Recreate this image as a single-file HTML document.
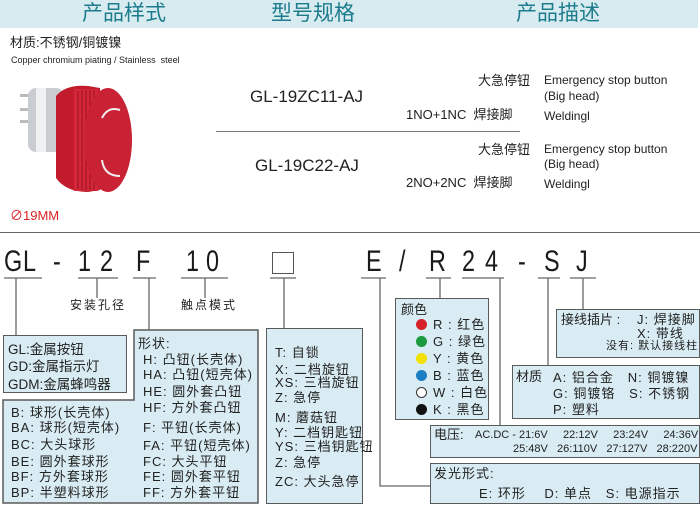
<!DOCTYPE html>
<html><head><meta charset="utf-8">
<style>
body{margin:0;width:700px;height:505px;background:#fff;position:relative;overflow:hidden;font-family:"Liberation Sans","Noto Sans CJK SC",sans-serif;color:#222}
.a{position:absolute;white-space:nowrap;line-height:1}
.hd{position:absolute;left:0;top:0;width:698px;height:28px;background:#d8ebf1}
.ht{position:absolute;top:2px;font-size:21px;color:#1d7c8c;line-height:23px}
.box{position:absolute;background:#d9ecf3;border:1.5px solid #5a5a5a;box-sizing:border-box}
.L{position:absolute;font-size:30px;line-height:30px;top:247px;transform:scaleX(.78);transform-origin:left top;color:#1a1a1a}
.t{font-size:13px;letter-spacing:1px}
.dot{display:inline-block;width:11px;height:11px;border-radius:50%;margin-right:6px;vertical-align:-1px}
</style></head><body>
<div class="hd"></div>
<div class="ht" style="left:82px">产品样式</div>
<div class="ht" style="left:271px">型号规格</div>
<div class="ht" style="left:516px">产品描述</div>

<div class="a" style="left:10px;top:36px;font-size:13px">材质:不锈钢/铜镀镍</div>
<div class="a" style="left:11px;top:56px;font-size:9px">Copper chromium piating / Stainless&nbsp; steel</div>

<svg style="position:absolute;left:0;top:60px" width="140" height="140">
<rect x="20" y="34" width="10" height="3" fill="#bbb"/><rect x="20" y="48" width="10" height="3" fill="#bbb"/><rect x="20" y="60" width="10" height="3" fill="#bbb"/>
<rect x="28" y="28" width="36" height="64" rx="8" fill="#c9ccd0"/>
<rect x="36" y="28" width="10" height="64" fill="#eef0f2"/>
<path d="M56 36 Q66 24 88 26 L100 28 L100 130 L88 132 Q66 132 56 118 Z" fill="#c21c2c"/>
<rect x="74" y="29" width="24" height="102" fill="#d4283a"/>
<g stroke="#9a1020" stroke-width="1">
<line x1="78" y1="31" x2="78" y2="129"/><line x1="82" y1="30" x2="82" y2="130"/><line x1="86" y1="30" x2="86" y2="131"/><line x1="90" y1="30" x2="90" y2="131"/><line x1="94" y1="30" x2="94" y2="131"/></g>
<ellipse cx="108" cy="80" rx="24" ry="52" fill="#c92234"/>
<path d="M102 58 Q108 46 120 50" stroke="#eee" stroke-width="2" fill="none"/>
<path d="M102 100 Q104 116 120 116" stroke="#eee" stroke-width="2" fill="none"/>
</svg>
<div class="a" style="left:10px;top:209px;font-size:13px;color:#d22">∅19MM</div>

<div class="a" style="left:250px;top:88px;font-size:17px">GL-19ZC11-AJ</div>
<div style="position:absolute;left:216px;top:131px;width:304px;height:1px;background:#777"></div>
<div class="a" style="left:255px;top:157px;font-size:17px">GL-19C22-AJ</div>

<div class="a" style="left:478px;top:74px;font-size:13px">大急停钮</div>
<div class="a" style="left:544px;top:74px;font-size:12px">Emergency stop button</div>
<div class="a" style="left:544px;top:90px;font-size:12px">(Big head)</div>
<div class="a" style="left:406px;top:108px;font-size:13px">1NO+1NC&nbsp; 焊接脚</div>
<div class="a" style="left:544px;top:110px;font-size:12px">Weldingl</div>
<div class="a" style="left:478px;top:143px;font-size:13px">大急停钮</div>
<div class="a" style="left:544px;top:143px;font-size:12px">Emergency stop button</div>
<div class="a" style="left:544px;top:158px;font-size:12px">(Big head)</div>
<div class="a" style="left:406px;top:176px;font-size:13px">2NO+2NC&nbsp; 焊接脚</div>
<div class="a" style="left:544px;top:178px;font-size:12px">Weldingl</div>

<div style="position:absolute;left:0;top:232px;width:700px;height:1px;background:#666"></div>

<div class="L" style="left:4px">G</div><div class="L" style="left:23px">L</div><div class="L" style="left:53px">-</div>
<div class="L" style="left:78px">1</div><div class="L" style="left:100px">2</div><div class="L" style="left:136px">F</div>
<div class="L" style="left:186px">1</div><div class="L" style="left:206px">0</div>
<div style="position:absolute;left:272px;top:252px;width:20px;height:20px;border:1.5px solid #555"></div>
<div class="L" style="left:366px">E</div><div class="L" style="left:399px">/</div><div class="L" style="left:429px">R</div>
<div class="L" style="left:462px">2</div><div class="L" style="left:485px">4</div><div class="L" style="left:518px">-</div>
<div class="L" style="left:544px">S</div><div class="L" style="left:576px">J</div>

<svg style="position:absolute;left:0;top:0" width="700" height="505" fill="none" stroke="#666" stroke-width="1.3">
<path d="M4 278H42M78 278H118M133 278H156M181 278H228M270 278H296M361 278H386M426 278H451M462 278H504M538 278H560M570 278H596"/>
<path d="M16 278V335M97 278V298M149 278V330M205 278V298M284 278V328M380 278V486H430M440 278V298M500 278V425M548 278V365M583 278V309"/>
<polygon points="134,330 258,330 258,503 3,503 3,400 134,400" fill="#d9ecf3" stroke="#5a5a5a" stroke-width="1.5"/>
</svg>

<div class="a" style="left:70px;top:299px;font-size:12px;letter-spacing:2px">安装孔径</div>
<div class="a" style="left:181px;top:299px;font-size:12px;letter-spacing:2px">触点模式</div>

<div class="box" style="left:3px;top:335px;width:124px;height:58px"></div>
<div class="a" style="left:8px;top:343px;font-size:13.5px">GL:金属按钮</div>
<div class="a" style="left:8px;top:360px;font-size:13.5px">GD:金属指示灯</div>
<div class="a" style="left:8px;top:378px;font-size:13.5px">GDM:金属蜂鸣器</div>

<div class="a t" style="left:138px;top:337px">形状:</div>
<div class="a t" style="left:143px;top:353px">H: 凸钮(长壳体)</div>
<div class="a t" style="left:143px;top:368px">HA: 凸钮(短壳体)</div>
<div class="a t" style="left:143px;top:385px">HE: 圆外套凸钮</div>
<div class="a t" style="left:143px;top:401px">HF: 方外套凸钮</div>
<div class="a t" style="left:143px;top:421px">F: 平钮(长壳体)</div>
<div class="a t" style="left:143px;top:439px">FA: 平钮(短壳体)</div>
<div class="a t" style="left:143px;top:455px">FC: 大头平钮</div>
<div class="a t" style="left:143px;top:470px">FE: 圆外套平钮</div>
<div class="a t" style="left:143px;top:486px">FF: 方外套平钮</div>
<div class="a t" style="left:11px;top:406px">B: 球形(长壳体)</div>
<div class="a t" style="left:11px;top:421px">BA: 球形(短壳体)</div>
<div class="a t" style="left:11px;top:438px">BC: 大头球形</div>
<div class="a t" style="left:11px;top:455px">BE: 圆外套球形</div>
<div class="a t" style="left:11px;top:470px">BF: 方外套球形</div>
<div class="a t" style="left:11px;top:486px">BP: 半塑料球形</div>

<div class="box" style="left:266px;top:328px;width:97px;height:176px"></div>
<div class="a t" style="left:275px;top:346px">T: 自锁</div>
<div class="a t" style="left:275px;top:363px">X: 二档旋钮</div>
<div class="a t" style="left:275px;top:376px">XS: 三档旋钮</div>
<div class="a t" style="left:275px;top:391px">Z: 急停</div>
<div class="a t" style="left:275px;top:411px">M: 蘑菇钮</div>
<div class="a t" style="left:275px;top:426px">Y: 二档钥匙钮</div>
<div class="a t" style="left:275px;top:440px">YS: 三档钥匙钮</div>
<div class="a t" style="left:275px;top:456px">Z: 急停</div>
<div class="a t" style="left:275px;top:475px">ZC: 大头急停</div>

<div class="box" style="left:395px;top:298px;width:94px;height:122px"></div>
<div class="a" style="left:401px;top:303px;font-size:13px">颜色</div>
<div class="a t" style="left:416px;top:318px"><span class="dot" style="background:#d42027"></span>R : 红色</div>
<div class="a t" style="left:416px;top:335px"><span class="dot" style="background:#1a9a3c"></span>G : 绿色</div>
<div class="a t" style="left:416px;top:352px"><span class="dot" style="background:#f2e100"></span>Y : 黄色</div>
<div class="a t" style="left:416px;top:369px"><span class="dot" style="background:#1c7fc4"></span>B : 蓝色</div>
<div class="a t" style="left:416px;top:386px"><span class="dot" style="background:#fff;border:1px solid #333;width:9px;height:9px"></span>W : 白色</div>
<div class="a t" style="left:416px;top:403px"><span class="dot" style="background:#111"></span>K : 黑色</div>

<div class="box" style="left:556px;top:309px;width:144px;height:49px"></div>
<div class="a" style="left:561px;top:313px;font-size:13px">接线插片 :</div>
<div class="a t" style="left:637px;top:313px">J: 焊接脚</div>
<div class="a t" style="left:637px;top:327px">X: 带线</div>
<div class="a" style="left:606px;top:341px;font-size:11px;letter-spacing:1px">没有: 默认接线柱</div>

<div class="box" style="left:512px;top:365px;width:188px;height:54px"></div>
<div class="a" style="left:516px;top:370px;font-size:13px">材质</div>
<div class="a t" style="left:553px;top:371px">A: 铝合金&nbsp;&nbsp; N: 铜镀镍</div>
<div class="a t" style="left:553px;top:387px">G: 铜镀铬&nbsp;&nbsp; S: 不锈钢</div>
<div class="a t" style="left:553px;top:403px">P: 塑料</div>

<div class="box" style="left:430px;top:425px;width:270px;height:33px"></div>
<div class="a" style="left:434px;top:428px;font-size:13px">电压:</div>
<div class="a" style="left:475px;top:430px;font-size:11px">AC.DC - 21:6V&nbsp;&nbsp;&nbsp;&nbsp; 22:12V&nbsp;&nbsp;&nbsp;&nbsp; 23:24V&nbsp;&nbsp;&nbsp;&nbsp; 24:36V</div>
<div class="a" style="left:513px;top:444px;font-size:11px">25:48V&nbsp;&nbsp; 26:110V&nbsp;&nbsp; 27:127V&nbsp;&nbsp; 28:220V</div>

<div class="box" style="left:430px;top:463px;width:270px;height:41px"></div>
<div class="a t" style="left:434px;top:467px">发光形式:</div>
<div class="a t" style="left:479px;top:487px">E: 环形&nbsp;&nbsp;&nbsp; D: 单点&nbsp;&nbsp; S: 电源指示</div>
</body></html>
